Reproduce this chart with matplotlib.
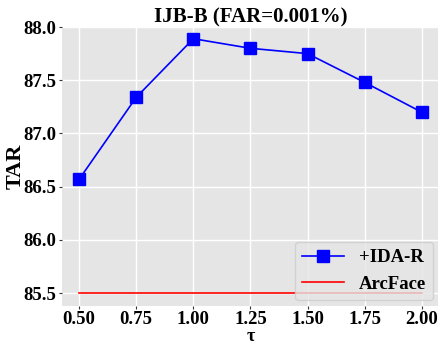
import matplotlib
matplotlib.use("Agg")
import matplotlib.pyplot as plt

tau = [0.50, 0.75, 1.00, 1.25, 1.50, 1.75, 2.00]
ida_r = [86.57, 87.34, 87.89, 87.80, 87.75, 87.48, 87.20]
arcface = [85.50] * len(tau)
xticks = [0.50, 0.75, 1.00, 1.25, 1.50, 1.75, 2.00]
yticks = [85.5, 86.0, 86.5, 87.0, 87.5, 88.0]

plt.rcParams['font.family'] = ['Liberation Serif', 'DejaVu Serif']
plt.rcParams['font.weight'] = 'bold'

fig = plt.figure(figsize=(4.38, 3.44), dpi=100)
ax = fig.add_axes([0.1416, 0.1105, 0.8604, 0.811])
ax.set_facecolor('#E5E5E5')
ax.grid(True, color='white', linewidth=1.0)
ax.set_axisbelow(True)
for s in ax.spines.values():
    s.set_visible(False)

ax.plot(tau, ida_r, color='blue', marker='s', markersize=8, linewidth=1.2, label='+IDA-R')
ax.plot(tau, arcface, color='red', linewidth=1.2, label='ArcFace')

ax.set_xlim(0.425, 2.075)
ax.set_ylim(85.38, 88.0)
ax.set_xticks(xticks)
ax.set_xticklabels([f"{v:.2f}" for v in xticks])
ax.set_yticks(yticks)
ax.set_yticklabels([f"{v:.1f}" for v in yticks])
ax.tick_params(axis='y', labelsize=13.5, length=2.5, color='#333333', width=0.8, pad=1.5)
ax.tick_params(axis='x', labelsize=13.5, length=2.5, color='#333333', width=0.8, pad=1.0)
for lab in ax.get_xticklabels() + ax.get_yticklabels():
    lab.set_fontweight('bold')

ax.set_xlabel('τ', fontsize=13, fontweight='bold', labelpad=0)
ax.xaxis.set_label_coords(0.5, -0.08)
ax.set_ylabel('TAR', fontsize=16, fontweight='bold')
ax.yaxis.set_label_coords(-0.097, 0.5)
ax.set_title('IJB-B (FAR=0.001%)', fontsize=15, fontweight='bold', pad=3)

leg = ax.legend(loc='lower right', prop={'weight': 'bold', 'size': 13.5},
                frameon=True, fancybox=True, framealpha=0.8, borderaxespad=0.3,
                handlelength=2.2)
leg.get_frame().set_facecolor('#E5E5E5')
leg.get_frame().set_edgecolor('#CCCCCC')

fig.savefig('out.png', dpi=100)
